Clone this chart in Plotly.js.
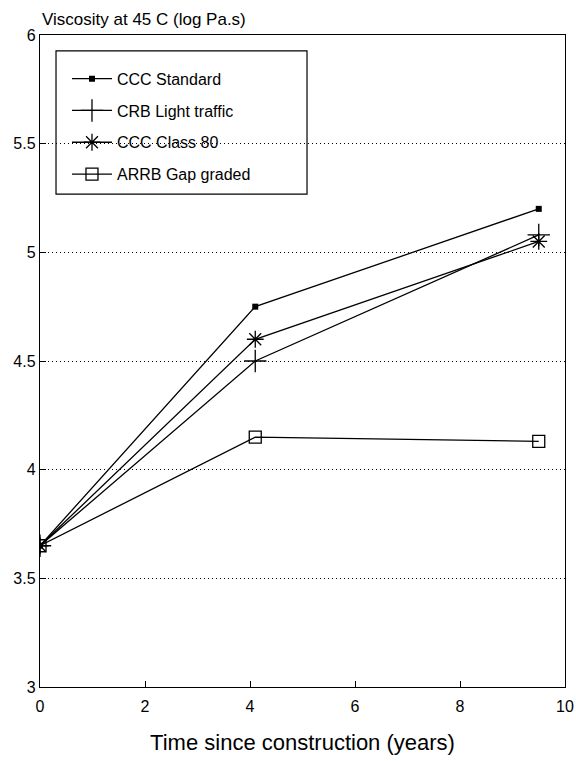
<!DOCTYPE html>
<html><head><meta charset="utf-8">
<script src="https://cdn.plot.ly/plotly-3.0.1.min.js"></script>
<style>html,body{margin:0;padding:0;background:#fff}</style>
</head><body><div id="chart" style="width:576px;height:761px"></div>
<script>
var years = [0, 4.1, 9.5];
var cccStandard = [3.65, 4.75, 5.2];
var crbLight = [3.65, 4.5, 5.08];
var cccClass80 = [3.65, 4.6, 5.05];
var arrbGap = [3.65, 4.15, 4.13];
var seriesNames = ["CCC Standard", "CRB Light traffic", "CCC Class 80", "ARRB Gap graded"];
var xTicks = [0, 2, 4, 6, 8, 10];
var yTicks = [3, 3.5, 4, 4.5, 5, 5.5, 6];

var font = "Liberation Sans, Arial, sans-serif";
function tr(y, name, sym, size, lw) {
  return {x: years, y: y, name: name, legendgroup: name, type: "scatter", mode: "lines+markers",
    line: {color: "#000", width: 1.3},
    marker: {symbol: sym, size: size, color: "#000", line: {color: "#000", width: lw}}};
}
var data = [
  tr(cccStandard, seriesNames[0], "square", 6, 0),
  tr(crbLight, seriesNames[1], "cross-thin", 16, 1.3),
  tr(cccClass80, seriesNames[2], "asterisk-open", 14, 1.3),
  tr(arrbGap, seriesNames[3], "square-open", 12, 1.3)
];
var layout = {
  width: 576, height: 761,
  margin: {l: 40, r: 11, t: 35, b: 74},
  paper_bgcolor: "#fff", plot_bgcolor: "#fff",
  font: {family: font, color: "#000", size: 14},
  showlegend: true,
  legend: {x: 0.0514, y: 0.959, xanchor: "left", yanchor: "top",
    borderwidth: 0, bgcolor: "rgba(0,0,0,0)",
    font: {size: 16, family: font}, tracegroupgap: 8, itemwidth: 40},
  shapes: [{type: "rect", xref: "paper", yref: "paper", x0: 0.0305, x1: 0.5086, y0: 0.756, y1: 0.9755,
    line: {color: "#000", width: 1.2}, fillcolor: "#fff", layer: "below"}],
  xaxis: {range: [0, 10], tickvals: xTicks, ticktext: xTicks.map(String),
    ticks: "inside", ticklen: 6, tickcolor: "#000", showgrid: false, zeroline: false,
    showline: true, linecolor: "#000", linewidth: 1.2, mirror: true,
    tickfont: {size: 16, family: font}, ticklabelstandoff: 5,
    title: {text: "Time since construction (years)", font: {size: 22, family: font}, standoff: 20}},
  yaxis: {range: [3, 6], tickvals: yTicks, ticktext: yTicks.map(String),
    ticks: "inside", ticklen: 6, tickcolor: "#000",
    showgrid: true, gridcolor: "#000", gridwidth: 1, griddash: "1px,3px", zeroline: false,
    showline: true, linecolor: "#000", linewidth: 1.2, mirror: true,
    tickfont: {size: 16, family: font}},
  annotations: [{text: "Viscosity at 45 C (log Pa.s)", xref: "paper", yref: "paper",
    x: 0, y: 1, xanchor: "left", yanchor: "bottom", yshift: 4, showarrow: false,
    font: {size: 17, family: font}}]
};
Plotly.newPlot("chart", data, layout, {displayModeBar: false, staticPlot: true});
</script></body></html>
